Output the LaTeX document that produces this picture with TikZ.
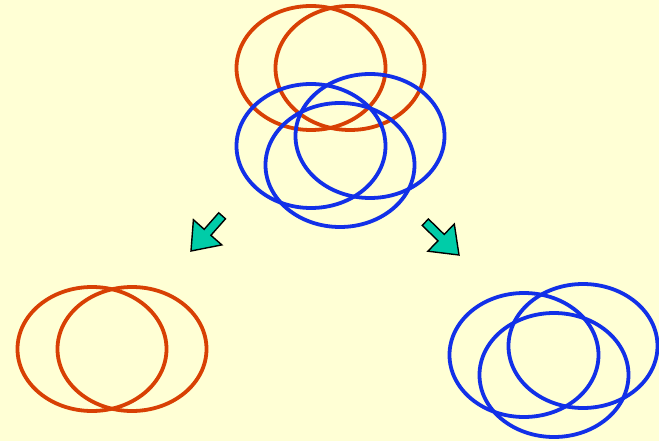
\documentclass[tikz,border=0pt]{standalone}
\usetikzlibrary{shapes.geometric}
\definecolor{bg}{RGB}{255,255,213}
\definecolor{ora}{RGB}{216,64,4}
\definecolor{blu}{RGB}{18,48,232}
\definecolor{teal}{RGB}{0,204,168}
\begin{document}
\begin{tikzpicture}[x=1pt,y=-1pt,
  ring/.style={ellipse,draw,line width=3.8pt,inner sep=0pt,minimum width=149pt,minimum height=124pt},
  oring/.style={ring,draw=ora},
  bring/.style={ring,draw=blu},
  barrow/.style={fill=teal,draw=black,line width=1.4pt,line join=miter}]
\fill[bg] (0,0) rectangle (659,441);
\useasboundingbox (0,0) rectangle (659,441);
% top group
\node[oring] (o1) at (311,68) {};
\node[oring] (o2) at (350,68) {};
\node[bring] (b1) at (311,146) {};
\node[bring] (b2) at (370,136) {};
\node[bring] (b3) at (340,165) {};
% bottom left
\node[oring] (l1) at (92,349) {};
\node[oring] (l2) at (132,349) {};
% bottom right
\node[bring] (r1) at (524,355) {};
\node[bring] (r2) at (583,346) {};
\node[bring] (r3) at (554,375) {};
% arrows
\draw[barrow] (218.7,212.8) -- (204.2,229.3) -- (193.4,219.7) -- (191,251) -- (221.8,244.9) -- (210.9,235.3) -- (225.5,218.8) -- cycle;
\draw[barrow] (428.4,219.0) -- (444.2,234.4) -- (454.3,224.0) -- (459,255) -- (427.9,251.2) -- (438.0,240.8) -- (422.2,225.4) -- cycle;
\end{tikzpicture}
\end{document}
